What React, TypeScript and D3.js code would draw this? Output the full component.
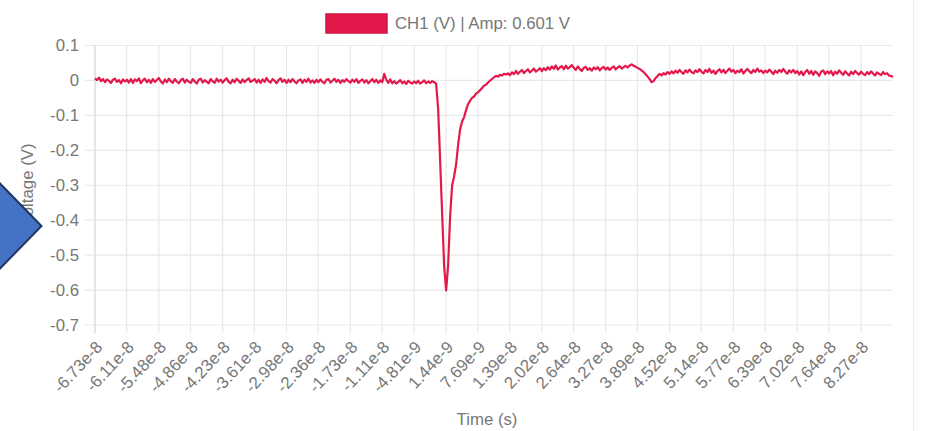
import React from "react";
import * as d3 from "d3";

// Oscilloscope capture, channel 1 (volts). One sample every 3.90625e-10 s.
const startTime = -6.73e-8;
const sampleStep = 3.90625e-10;

// Baseline before the trigger
const preTrigger: number[] = [
  0.006, 0.001, 0.008, -0.002, 0.004, -0.005, 0.003, -0.001, -0.007, 0.002, 0.005, -0.004, 0.001, -0.008, 0.003, -0.003,
  0.002, -0.006, 0.004, -0.007, 0.003, -0.002, 0.006, -0.008, 0.000, 0.005, -0.005, 0.002, -0.007, 0.004, -0.004, 0.001,
  0.007, -0.003, -0.009, 0.003, -0.005, 0.005, -0.002, -0.007, 0.004, -0.003, -0.008, 0.001, 0.005, -0.006, 0.002, -0.004,
  -0.007, 0.004, -0.003, -0.009, 0.002, 0.005, -0.006, 0.001, -0.004, -0.008, 0.004, -0.002, -0.007, 0.005, -0.003, 0.002,
  -0.006, 0.001, 0.006, -0.004, -0.008, 0.002, -0.005, 0.005, -0.001, -0.007, 0.003, -0.005, 0.001, 0.006, -0.004, -0.001,
  0.004, -0.006, 0.002, -0.007, 0.003, -0.004, 0.007, -0.002, -0.006, 0.004, -0.001, -0.008, 0.001, 0.006, -0.004, 0.002,
  -0.007, 0.002, -0.005, 0.004, -0.003, -0.008, 0.000, 0.003, -0.007, 0.002, -0.004, 0.005, -0.006, 0.000, -0.007, 0.002,
  -0.005, 0.003, -0.004, -0.008, 0.002, 0.004, -0.006, -0.001, 0.005, -0.004, 0.002, -0.007, 0.001, -0.004, 0.004, -0.002,
  -0.006, 0.002, -0.004, 0.004, -0.007, -0.001, 0.003, -0.006, 0.001, -0.008, -0.002, 0.004, -0.005, 0.002, -0.007, 0.000,
  -0.005, 0.019, 0.002, -0.007, 0.003, -0.008, -0.002, -0.009, -0.004, 0.001, -0.008, -0.003, -0.010, -0.001, -0.006, -0.009,
  -0.003, -0.008, -0.001, -0.009, -0.005, 0.000, -0.008, -0.003, -0.007, -0.002, -0.005,
];

// Negative pulse and its fast recovery
const pulse: number[] = [
  -0.010, -0.080, -0.230, -0.380, -0.530, -0.601, -0.530, -0.390, -0.300, -0.275, -0.240, -0.185, -0.140, -0.118, -0.105, -0.085,
  -0.068, -0.058, -0.050, -0.046, -0.038, -0.034, -0.028, -0.022, -0.015, -0.012, -0.006, -0.001, 0.004, 0.009, 0.013, 0.011,
  0.016, 0.014, 0.019, 0.017, 0.020,
];

// Slow settling towards the positive offset
const settle: number[] = [
  0.015, 0.023, 0.018, 0.027, 0.019, 0.025, 0.030, 0.021, 0.027, 0.032, 0.023, 0.028, 0.034, 0.025, 0.030, 0.035,
  0.027, 0.035, 0.029, 0.038, 0.031, 0.040, 0.033, 0.043, 0.031, 0.037, 0.041, 0.032, 0.042, 0.034, 0.038, 0.044,
  0.036, 0.030, 0.040, 0.033, 0.027, 0.036, 0.039, 0.030, 0.035, 0.028, 0.037, 0.032, 0.038, 0.029, 0.035, 0.039,
  0.031, 0.037, 0.030, 0.036, 0.040, 0.032, 0.037, 0.041, 0.034, 0.038, 0.042, 0.037, 0.043, 0.046, 0.042, 0.039,
];

// Reflection dip and the remaining tail
const tail: number[] = [
  0.036, 0.033, 0.029, 0.024, 0.018, 0.011, 0.004, -0.005, -0.002, 0.007, 0.013, 0.019, 0.014, 0.021, 0.017, 0.024,
  0.019, 0.026, 0.020, 0.028, 0.022, 0.030, 0.024, 0.019, 0.029, 0.023, 0.031, 0.024, 0.020, 0.029, 0.024, 0.032,
  0.025, 0.020, 0.030, 0.024, 0.033, 0.022, 0.028, 0.019, 0.027, 0.032, 0.023, 0.030, 0.021, 0.028, 0.034, 0.025,
  0.030, 0.021, 0.028, 0.024, 0.032, 0.020, 0.027, 0.033, 0.026, 0.021, 0.030, 0.024, 0.034, 0.025, 0.029, 0.021,
  0.028, 0.023, 0.031, 0.025, 0.018, 0.028, 0.022, 0.030, 0.024, 0.033, 0.025, 0.019, 0.029, 0.023, 0.030, 0.021,
  0.027, 0.017, 0.026, 0.015, 0.024, 0.030, 0.019, 0.027, 0.016, 0.026, 0.021, 0.013, 0.025, 0.029, 0.018, 0.026,
  0.020, 0.027, 0.015, 0.025, 0.019, 0.029, 0.022, 0.016, 0.026, 0.020, 0.014, 0.025, 0.018, 0.027, 0.021, 0.017,
  0.025, 0.019, 0.015, 0.024, 0.018, 0.026, 0.020, 0.014, 0.023, 0.019, 0.015, 0.024, 0.018, 0.021, 0.014, 0.013, 0.010,
];

const timeTickLabels: string[] = [
  "-6.73e-8", "-6.11e-8", "-5.48e-8", "-4.86e-8", "-4.23e-8", "-3.61e-8", "-2.98e-8", "-2.36e-8", "-1.73e-8",
  "-1.11e-8", "-4.81e-9", "1.44e-9", "7.69e-9", "1.39e-8", "2.02e-8", "2.64e-8", "3.27e-8", "3.89e-8",
  "4.52e-8", "5.14e-8", "5.77e-8", "6.39e-8", "7.02e-8", "7.64e-8", "8.27e-8",
];

const voltageTicks: number[] = [0.1, 0, -0.1, -0.2, -0.3, -0.4, -0.5, -0.6, -0.7];
const voltageTickLabels: string[] = ["0.1", "0", "-0.1", "-0.2", "-0.3", "-0.4", "-0.5", "-0.6", "-0.7"];

const W = 940;
const H = 431;
const plot = { left: 95, right: 893, top: 45.5, bottom: 325 };
const FONT = "'Liberation Sans', Arial, Helvetica, sans-serif";
const FS = 16.8;
const TEXT = "#777";
const GRID = "#e9e9e9";
const TRACE = "#e3194b";

export default function App() {
  const volts = [...preTrigger, ...pulse, ...settle, ...tail];
  const samples = volts.map((v, i) => ({ t: startTime + i * sampleStep, v }));
  const endTime = samples[samples.length - 1].t;

  const x = d3.scaleLinear().domain([startTime, endTime]).range([plot.left, plot.right]);
  const y = d3.scaleLinear().domain([-0.7, 0.1]).range([plot.bottom, plot.top]);

  const line = d3
    .line<{ t: number; v: number }>()
    .x((d) => x(d.t))
    .y((d) => y(d.v));

  const amp = Math.abs(d3.min(volts) as number);
  const legendText = `CH1 (V) | Amp: ${amp.toFixed(3)} V`;

  return (
    <svg
      width={W}
      height={H}
      viewBox={`0 0 ${W} ${H}`}
      style={{ position: "absolute", left: 0, top: 0, background: "#fff" }}
    >
      {/* panel border on the right */}
      <line x1={913.5} x2={913.5} y1={0} y2={H} stroke="#ececec" strokeWidth={1} />

      {/* horizontal grid */}
      {voltageTicks.map((v) => (
        <line
          key={`hy${v}`}
          x1={plot.left - 10}
          x2={plot.right}
          y1={y(v)}
          y2={y(v)}
          stroke={GRID}
          strokeWidth={1.2}
        />
      ))}
      {/* vertical grid */}
      {timeTickLabels.map((s) => (
        <line
          key={`vx${s}`}
          x1={x(Number(s))}
          x2={x(Number(s))}
          y1={plot.top}
          y2={plot.bottom + 8}
          stroke={GRID}
          strokeWidth={1.2}
        />
      ))}
      <line x1={plot.left} x2={plot.left} y1={plot.top} y2={plot.bottom + 8} stroke="#dcdcdc" strokeWidth={1.2} />

      {/* y tick labels */}
      {voltageTicks.map((v, i) => (
        <text
          key={`yl${v}`}
          x={79}
          y={y(v)}
          dy="0.35em"
          textAnchor="end"
          fontFamily={FONT}
          fontSize={FS}
          fill={TEXT}
        >
          {voltageTickLabels[i]}
        </text>
      ))}

      {/* x tick labels */}
      {timeTickLabels.map((s) => {
        const px = x(Number(s)) + 4;
        const py = 344;
        return (
          <text
            key={`xl${s}`}
            x={px}
            y={py}
            dy="0.35em"
            textAnchor="end"
            transform={`rotate(-47 ${px} ${py})`}
            fontFamily={FONT}
            fontSize={FS}
            fill={TEXT}
          >
            {s}
          </text>
        );
      })}

      {/* axis titles */}
      <text x={487} y={419} dy="0.35em" textAnchor="middle" fontFamily={FONT} fontSize={FS} fill={TEXT}>
        Time (s)
      </text>
      <text
        x={27}
        y={185}
        dy="0.35em"
        textAnchor="middle"
        transform="rotate(-90 27 185)"
        fontFamily={FONT}
        fontSize={FS}
        fill={TEXT}
      >
        Voltage (V)
      </text>

      {/* trace */}
      <path d={line(samples) ?? ""} fill="none" stroke={TRACE} strokeWidth={2.2} strokeLinejoin="round" />

      {/* legend */}
      <rect x={326} y={14} width={61} height={19} fill={TRACE} stroke="#d21543" strokeWidth={1.5} />
      <text x={395} y={23.5} dy="0.35em" fontFamily={FONT} fontSize={FS} fill={TEXT}>
        {legendText}
      </text>

      {/* arrow marker on the left edge */}
      <polygon
        points="-20,163 41.5,226 -20,289"
        fill="#4472c4"
        stroke="#1f3560"
        strokeWidth={2}
        strokeLinejoin="miter"
      />
    </svg>
  );
}
